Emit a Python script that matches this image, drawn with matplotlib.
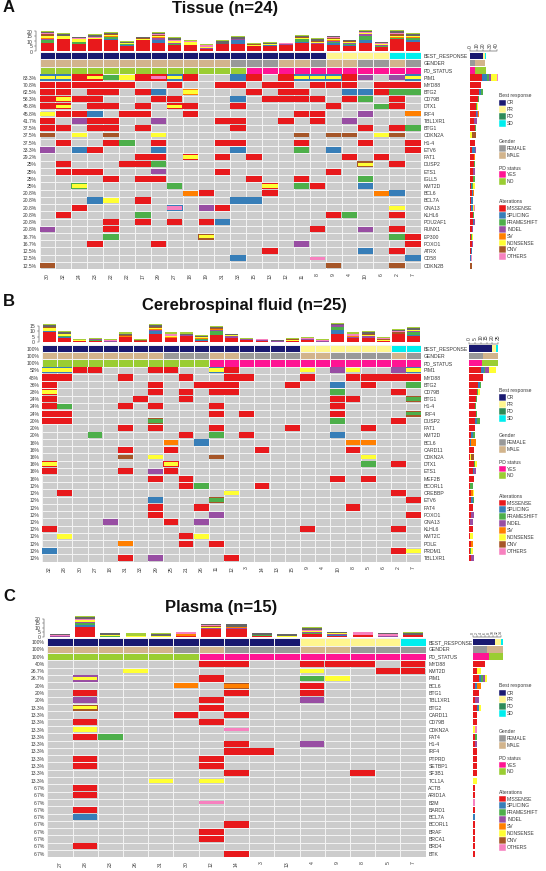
import matplotlib
matplotlib.use('Agg')
import matplotlib.pyplot as plt
import numpy as np
from matplotlib.colors import ListedColormap
from matplotlib.patches import Rectangle

plt.rcParams['font.family'] = ['Liberation Sans', 'DejaVu Sans']

W, H = 546, 871
TXT = '#3a3a3a'

alt_names = ['MISSENSE', 'SPLICING', 'FRAMESHIFT', 'INDEL', 'SV', 'NONSENSE', 'CNV', 'OTHERS']
alt_keys = 'MSFIVNCO'
alt_colors = ['#E8191C', '#377EB8', '#4DAF4A', '#984EA3', '#FF7F00', '#FFFF33', '#A65628', '#F781BF']
alt_heights = [0.84, 0.84, 0.8, 0.8, 0.68, 0.58, 0.58, 0.5]
extra_colors = ['#666666', '#A6CE39']

best_names = ['CR', 'PR', 'PD', 'SD']
best_colors = ['#191970', '#FFF68F', '#2E8B57', '#00EEEE']
gender_names = ['FEMALE', 'MALE']
gender_colors = ['#999999', '#D2B48C']
pd_names = ['YES', 'NO']
pd_colors = ['#FF1493', '#9ACD32']

# ---- Tissue
tissue_samples = [30, 32, 24, 23, 22, 22, 17, 29, 27, 18, 19, 31, 33, 15, 13, 12, 11, 8, 9, 4, 10, 6, 2, 7]
tissue_genes = ['PIM1', 'MYD88', 'BTG2', 'CD79B', 'DTX1', 'IRF4', 'TBL1XR1', 'BTG1', 'CDKN2A', 'H1-4', 'ETV6',
                'FAT1', 'DUSP2', 'ETS1', 'IGLL5', 'KMT2D', 'BCL6', 'BCL7A', 'GNA13', 'KLHL6', 'POU2AF1', 'RUNX1',
                'EP300', 'FOXO1', 'ATRX', 'CD58', 'CDKN2B']
tissue_pct = ['83.3%', '70.8%', '62.5%', '58.3%', '45.8%', '45.8%', '41.7%', '37.5%', '37.5%', '37.5%', '33.3%',
              '29.2%', '25%', '25%', '25%', '25%', '20.8%', '20.8%', '20.8%', '20.8%', '20.8%', '20.8%',
              '16.7%', '16.7%', '12.5%', '12.5%', '12.5%']
tissue_best = 'C' * 18 + 'P' * 4 + 'S' * 2
tissue_gender = 'MMMMMMMMMMMMFFFMMFMMFFMF'
tissue_status = 'N' * 13 + 'Y' * 11
tissue_hits = [
    '0N 1N 2M 3N 4F 5N 6M 7O 8N 9M 12S 13M 15M 16N 17N 18N 19M 20I 22I 23N',
    '0M 1M 2M 3M 4M 5M 8M 11M 12M 14M 15M 17M 18M 19M 21M 22M 23M',
    '0M 1M 3M 4M 6M 7S 9N 13M 15M 16M 19S 20S 21M 22F 23F',
    '0M 1N 2M 3M 7M 8M 12S 14M 15M 16M 17M 19M 20F 22M',
    '0M 1N 3M 4M 6M 8N 9M 12M 18M 21F 22M',
    '0N 1M 2M 3S 5M 6M 9M 16M 17M 20I 23V',
    '0M 2I 3M 4M 7I 11M 12M 15M 17M 19I',
    '0M 1M 3M 4M 6M 12M 20M 22M 23F',
    '0C 2N 4C 7N 16C 18C 19C 21N 22C',
    '1M 4M 5F 7M 11M 12M 16M 20M 23M',
    '0I 2S 3M 7S 12S 16F 18S 23M',
    '6M 7M 9N 11M 13M 19M 21M',
    '1M 5M 6M 7F 20N 22M',
    '1M 2M 3M 7I 11M 18M',
    '4M 6M 7M 13M 16M 20F',
    '2N 8F 14N 16F 17M 20S',
    '9V 10M 14M 21V 22S',
    '3S 4N 6M 12S 13S',
    '2M 8O 10I 11M 22N',
    '1M 6F 18M 19F 22M',
    '4M 6M 8M 10M 11S',
    '0I 4M 17M 20I 22M',
    '4F 10N 22F 23M',
    '3M 7M 16I 23M',
    '14M 20S 22M',
    '12S 17O 23S',
    '0C 18C 22C',
]
tissue_edges = {'PIM1': '0S 1S 3M 7M 8S 16S 17S 18S 23S', 'BTG2': '9V', 'CD79B': '1M', 'DTX1': '1M 8M',
                'FAT1': '9M', 'DUSP2': '20C', 'KMT2D': '2F 14M', 'GNA13': '8S', 'EP300': '10C'}
tissue_side = [[18, 8, 3, 3, 0, 9, 0, 1], [17, 0, 0, 0, 0, 0, 0, 0], [13, 4, 2, 0, 0, 0, 0, 0], [12, 0, 1, 0, 0, 1, 0, 0],
               [9, 0, 1, 0, 0, 2, 0, 0], [9, 2, 0, 1, 1, 1, 0, 0], [6, 0, 0, 4, 0, 0, 0, 0], [8, 0, 1, 0, 0, 0, 0, 0],
               [0, 0, 0, 0, 0, 3, 6, 0], [7, 0, 1, 0, 0, 0, 0, 0], [3, 4, 1, 1, 0, 0, 0, 0], [6, 0, 0, 0, 1, 0, 0, 0],
               [6, 0, 1, 0, 0, 1, 0, 0], [5, 0, 0, 2, 0, 0, 0, 0], [5, 0, 2, 0, 0, 0, 0, 0], [2, 1, 2, 0, 0, 2, 0, 0],
               [3, 1, 0, 0, 2, 0, 0, 0], [2, 3, 0, 0, 0, 0, 0, 0], [2, 2, 0, 1, 0, 1, 0, 1], [4, 0, 2, 0, 0, 0, 0, 0],
               [5, 1, 0, 1, 0, 0, 0, 0], [3, 0, 0, 2, 0, 0, 0, 0], [1, 0, 2, 0, 0, 1, 0, 0], [3, 0, 0, 1, 0, 0, 0, 0],
               [2, 1, 0, 0, 0, 0, 0, 0], [0, 2, 0, 0, 0, 0, 0, 1], [0, 0, 0, 0, 0, 0, 3, 0]]
tissue_side_best = [19, 3, 0, 2]
tissue_side_gender = [7, 16]
tissue_side_status = [8, 16]
tissue_stack = [
    [8, 12, 7, 12, 11, 5, 11, 8, 6, 6, 2, 7, 7, 5, 5, 6, 8, 7, 6, 5, 8, 4, 12, 9],
    [0, 0, 0, 0, 1, 1, 0, 3, 0, 0, 0, 0, 4, 0, 1, 0, 1, 0, 2, 1, 3, 0, 0, 2],
    [3, 0, 2, 0, 2, 1, 0, 0, 1, 0, 0, 0, 0, 0, 0, 0, 3, 0, 1, 1, 4, 1, 1, 2],
    [1, 0, 0, 0, 0, 0, 0, 2, 1, 0, 1, 0, 1, 0, 0, 1, 0, 1, 1, 1, 2, 1, 0, 0],
    [1, 0, 0, 0, 1, 0, 0, 1, 0, 0, 0, 0, 0, 0, 0, 0, 0, 0, 1, 0, 0, 0, 1, 1],
    [2, 3, 3, 1, 1, 1, 1, 1, 2, 3, 1, 0, 0, 1, 1, 0, 1, 1, 1, 1, 1, 1, 1, 1],
    [2, 0, 0, 0, 1, 0, 1, 1, 0, 0, 0, 0, 0, 1, 0, 0, 1, 1, 1, 1, 0, 0, 2, 0],
    [1, 0, 1, 1, 0, 0, 0, 1, 1, 1, 2, 0, 0, 0, 0, 1, 0, 0, 1, 0, 1, 1, 1, 0],
    [1, 2, 1, 2, 1, 1, 1, 1, 2, 0, 0, 3, 2, 0, 1, 0, 1, 2, 1, 1, 1, 1, 2, 2],
    [1, 1, 0, 1, 1, 1, 0, 1, 1, 1, 1, 1, 1, 1, 1, 0, 1, 1, 0, 0, 1, 0, 1, 1],
]

# ---- Cerebrospinal fluid
csf_samples = [32, 28, 30, 27, 18, 31, 33, 29, 25, 21, 26, 11, 12, 3, 14, 13, 15, 9, 4, 10, 8, 5, 6, 2, 7]
csf_genes = ['PIM1', 'MYD88', 'BTG2', 'CD79B', 'BTG1', 'H1-4', 'IRF4', 'DUSP2', 'FAT1', 'KMT2D', 'BCL6', 'CARD11',
             'CDKN2A', 'DTX1', 'ETS1', 'MEF2B', 'BCORL1', 'CREBBP', 'ETV6', 'FAT4', 'FOXO1', 'GNA13', 'KLHL6',
             'KMT2C', 'POLE', 'PRDM1', 'TBL1XR1']
csf_pct = ['52%', '48%', '36%', '28%', '24%', '24%', '24%', '20%', '20%', '20%', '16%', '16%', '16%', '16%', '16%',
           '16%', '12%', '12%', '12%', '12%', '12%', '12%', '12%', '12%', '12%', '12%', '12%']
csf_best = 'C' * 17 + 'P' * 6 + 'S' * 2
csf_gender = 'MMMMMMMMFFFMMFFFFMMFFFFMF'
csf_status = 'N' * 11 + 'Y' * 14
csf_hits = [
    '0N 1N 2M 3M 7M 8M 11N 12M 17N 19I 20N 23I 24N',
    '0M 1M 5M 9M 12M 13M 17M 20M 21M 22M 23M 24M',
    '0M 7M 10M 11M 12M 16M 19S 21M 24F',
    '0N 7M 9M 11M 12M 19F 23M',
    '0M 6M 9M 19M 20M 24F',
    '0M 1F 5M 7M 11M 19M',
    '0M 1M 11M 13M 19M 24F',
    '0M 1M 7F 19F 23M',
    '5M 7M 11M 16M 21M',
    '3F 9M 11F 13M 19S',
    '8V 10S 20V 21V',
    '5M 8M 14M 20M',
    '5C 7N 11C 21N',
    '0N 8N 21F 23M',
    '0M 5M 7I 8M',
    '7M 9M 19M 21M',
    '9M 10F 14M',
    '1M 12N 23M',
    '7S 11F 24M',
    '7M 10M 20M',
    '7M 11I 24M',
    '4I 8M 10I',
    '0M 17M 23M',
    '1N 9M 10N',
    '5V 9M 11M',
    '0S 23M 24N',
    '5M 7I 12M',
]
csf_edges = {'PIM1': '0S 1S 11S 24S', 'CD79B': '0M', 'BTG1': '24C', 'IRF4': '24C', 'DUSP2': '7C', 'DTX1': '0M 8M',
             'ETV6': '11C'}
csf_side = [[10, 3, 1, 3, 0, 6, 0, 0], [12, 0, 0, 0, 0, 0, 0, 0], [8, 1, 1, 0, 0, 0, 0, 0], [7, 0, 1, 0, 0, 1, 0, 0],
            [6, 0, 1, 0, 0, 0, 0, 0], [5, 0, 1, 0, 0, 0, 0, 0], [6, 0, 1, 0, 0, 0, 0, 0], [5, 2, 2, 0, 0, 0, 0, 0],
            [5, 0, 0, 0, 0, 0, 0, 0], [2, 1, 2, 0, 0, 0, 0, 0], [1, 1, 0, 0, 4, 0, 0, 0], [4, 0, 0, 0, 0, 0, 0, 0],
            [1, 0, 0, 0, 0, 1, 2, 0], [4, 0, 1, 0, 0, 2, 0, 0], [3, 1, 0, 2, 0, 0, 0, 0], [4, 0, 0, 0, 0, 0, 0, 0],
            [1, 0, 2, 0, 0, 0, 0, 0], [2, 0, 0, 0, 1, 1, 0, 0], [2, 1, 1, 0, 0, 0, 0, 0], [3, 0, 0, 0, 0, 0, 0, 0],
            [2, 0, 0, 2, 0, 0, 0, 0], [1, 0, 0, 2, 0, 0, 0, 0], [3, 0, 0, 0, 0, 0, 0, 0], [1, 0, 0, 0, 0, 2, 0, 0],
            [2, 0, 0, 0, 1, 0, 0, 0], [1, 0, 1, 0, 0, 1, 0, 0], [2, 0, 0, 2, 0, 0, 0, 0]]
csf_side_best = [20, 3, 0, 2]
csf_side_gender = [12, 13]
csf_side_status = [11, 14]
csf_stack = [
    [9, 4, 1, 1, 0, 5, 1, 8, 4, 6, 1, 7, 4, 2, 1, 0, 1, 2, 0, 8, 4, 4, 1, 8, 6],
    [1, 1, 0, 0, 0, 0, 0, 2, 0, 0, 1, 0, 0, 0, 0, 0, 0, 0, 0, 3, 0, 0, 0, 0, 1],
    [0, 1, 0, 1, 0, 0, 0, 0, 0, 0, 1, 3, 0, 0, 0, 0, 0, 0, 0, 3, 0, 0, 0, 0, 2],
    [0, 0, 0, 1, 1, 0, 0, 1, 0, 1, 0, 1, 2, 1, 1, 1, 0, 1, 1, 2, 1, 2, 0, 0, 1],
    [0, 0, 0, 0, 0, 1, 0, 1, 1, 0, 1, 1, 0, 0, 0, 0, 0, 0, 0, 0, 1, 0, 0, 0, 0],
    [3, 2, 1, 0, 0, 0, 0, 1, 1, 0, 1, 0, 1, 0, 0, 0, 1, 0, 0, 0, 0, 1, 1, 0, 1],
    [1, 0, 0, 0, 0, 1, 1, 1, 0, 0, 0, 1, 0, 0, 0, 0, 1, 0, 0, 0, 0, 1, 1, 1, 0],
    [0, 0, 0, 0, 1, 0, 0, 0, 2, 0, 0, 0, 0, 0, 1, 0, 0, 1, 1, 0, 2, 0, 1, 1, 0],
    [2, 1, 0, 0, 0, 1, 0, 2, 0, 1, 1, 1, 1, 0, 0, 1, 0, 0, 0, 1, 0, 1, 0, 1, 2],
    [1, 1, 1, 1, 1, 1, 1, 1, 1, 1, 1, 1, 0, 1, 0, 0, 1, 1, 1, 1, 1, 1, 1, 1, 1],
]

# ---- Plasma
plasma_samples = [27, 28, 23, 26, 31, 30, 12, 14, 3, 13, 4, 9, 8, 5, 7]
plasma_genes = ['MYD88', 'KMT2D', 'PIM1', 'BCL6', 'BTG1', 'TBL1XR1', 'BTG2', 'CARD11', 'CD79B', 'CDKN2A', 'FAT4',
                'H1-4', 'IRF4', 'PTPRD', 'SETBP1', 'SF3B1', 'TCL1A', 'ACTB', 'ARID1A', 'B2M', 'BARD1', 'BCL7A',
                'BCORL1', 'BRAF', 'BRCA1', 'BRD4', 'BTK']
plasma_pct = ['40%', '26.7%', '26.7%', '20%', '20%', '20%'] + ['13.3%'] * 11 + ['6.7%'] * 10
plasma_best = 'C' * 10 + 'P' * 4 + 'S'
plasma_gender = 'MMMMMFMFFFMMFFF'
plasma_status = 'N' * 6 + 'Y' * 9
plasma_hits = [
    '6M 7M 10M 11M 12M 14M',
    '3N 10N 13M 14M',
    '1N 6M 10F 11N',
    '5V 7V 10M',
    '1M 7M 10M',
    '1I 6M 10I',
    '1N 6M',
    '5M 7M',
    '1M 6M',
    '1N 7O',
    '1M 2F',
    '7M 10I',
    '7M 8M',
    '1M 6M',
    '1M 6M',
    '7M 12M',
    '4N 6N',
    '1M',
    '1M',
    '6O',
    '1M',
    '1S',
    '7M',
    '6M',
    '6M',
    '1M',
    '7M',
]
plasma_edges = {'PIM1': '1I', 'BCL6': '7C', 'BTG2': '1C'}
plasma_side = [[6, 0, 0, 0, 0, 0, 0, 0], [2, 0, 0, 0, 0, 2, 0, 0], [3, 1, 1, 1, 0, 1, 0, 0], [1, 1, 0, 0, 2, 0, 0, 0],
               [3, 0, 0, 0, 0, 0, 0, 0], [1, 0, 0, 2, 0, 0, 0, 0], [2, 1, 0, 0, 0, 1, 0, 0], [2, 0, 0, 0, 0, 0, 0, 0],
               [2, 0, 0, 0, 0, 0, 0, 0], [0, 0, 0, 0, 0, 1, 0, 1], [1, 0, 1, 0, 0, 0, 0, 0], [1, 0, 0, 1, 0, 0, 0, 0],
               [2, 0, 0, 0, 0, 0, 0, 0], [2, 0, 0, 0, 0, 0, 0, 0], [2, 0, 0, 0, 0, 0, 0, 0], [2, 0, 0, 0, 0, 0, 0, 0],
               [0, 0, 0, 0, 0, 2, 0, 0], [1, 0, 0, 0, 0, 0, 0, 0], [1, 0, 0, 0, 0, 0, 0, 0], [0, 0, 0, 0, 0, 0, 0, 1],
               [1, 0, 0, 0, 0, 0, 0, 0], [0, 1, 0, 0, 0, 0, 0, 0], [1, 0, 0, 0, 0, 0, 0, 0], [1, 0, 0, 0, 0, 0, 0, 0],
               [1, 0, 0, 0, 0, 0, 0, 0], [1, 0, 0, 0, 0, 0, 0, 0], [1, 0, 0, 0, 0, 0, 0, 0]]
plasma_side_best = [11, 3, 0, 1]
plasma_side_gender = [7, 8]
plasma_side_status = [8, 7]
plasma_stack = [
    [0, 11, 0, 0, 0, 1, 9, 9, 1, 0, 3, 1, 2, 0, 2],
    [0, 2, 0, 0, 0, 0, 0, 0, 0, 0, 0, 1, 0, 0, 0],
    [0, 2, 1, 0, 0, 0, 0, 0, 1, 0, 1, 0, 0, 0, 0],
    [1, 1, 0, 0, 0, 0, 1, 1, 0, 0, 1, 1, 0, 1, 0],
    [0, 0, 0, 0, 0, 2, 0, 1, 0, 0, 0, 0, 0, 0, 0],
    [0, 3, 1, 1, 1, 0, 1, 0, 0, 1, 1, 1, 0, 0, 0],
    [0, 0, 0, 0, 0, 0, 1, 0, 0, 0, 1, 0, 0, 0, 0],
    [1, 1, 0, 0, 0, 2, 1, 0, 0, 0, 1, 0, 3, 2, 0],
    [1, 2, 2, 0, 2, 0, 1, 3, 2, 2, 2, 1, 0, 1, 2],
    [0, 1, 0, 3, 1, 0, 0, 0, 0, 0, 1, 0, 0, 0, 1],
]


def rect(x0, y0, x1, y1):
    return [x0 / W, 1 - y1 / H, (x1 - x0) / W, (y1 - y0) / H]


def parse(row):
    return [(int(tok[:-1]), tok[-1]) for tok in row.split()]


def draw_panel(fig, samples, genes, pct, best, gender, status, hits, edges, side, side_best, side_gender,
               side_status, stack, box, top, side_box, top_ticks, side_ticks, grid_lw=0.6, bar_w=0.85, side_fs=3.6):
    n = len(samples)
    rows = ['BEST_RESPONSE', 'GENDER', 'PD_STATUS'] + genes
    x0, y0, x1, y1 = box

    # grid: 0 is the empty cell colour, the rest the annotation colours
    palette = ['#CCCCCC'] + best_colors + gender_colors + pd_colors
    code = np.zeros((len(rows), n), dtype=int)
    code[0] = [1 + 'CPDS'.index(c) for c in best]
    code[1] = [5 + 'FM'.index(c) for c in gender]
    code[2] = [7 + 'YN'.index(c) for c in status]
    ax = fig.add_axes(rect(x0, y0, x1, y1))
    ax.pcolormesh(np.arange(n + 1), np.arange(len(rows) + 1), code, cmap=ListedColormap(palette),
                  vmin=0, vmax=len(palette) - 1, edgecolors='#F2F2F2', linewidth=grid_lw)
    ax.set_xlim(0, n)
    ax.set_ylim(len(rows), 0)
    for r, (gene, row) in enumerate(zip(genes, hits)):
        under = dict(parse(edges.get(gene, '')))
        for c, key in parse(row):
            k = alt_keys.index(key)
            if c in under:
                ax.barh(r + 3.5, 1, left=c, height=0.84, color=alt_colors[alt_keys.index(under[c])], linewidth=0)
            ax.barh(r + 3.5, 0.97, left=c + 0.015, height=min(alt_heights[k], 0.5 if c in under else 1),
                    color=alt_colors[k], linewidth=0)
    for s in ax.spines.values():
        s.set_visible(False)
    pct_labels = ['100%' if len(samples) != 24 else ''] * 3 + pct
    ax.set_yticks(np.arange(len(rows)) + 0.5, pct_labels, fontsize=3.6, color=TXT)
    ax.set_xticks(np.arange(n) + 0.5, samples, fontsize=3.7, rotation=90, color=TXT)
    ax.tick_params(length=0, pad=2)
    ax.tick_params(axis='x', pad=3)
    right = ax.twinx()
    right.set_ylim(len(rows), 0)
    right.set_yticks(np.arange(len(rows)) + 0.5, rows, fontsize=3.7, color=TXT)
    right.tick_params(length=0, pad=2)
    for s in right.spines.values():
        s.set_visible(False)

    # stacked mutation counts per sample
    tx = fig.add_axes(rect(x0, top[0], x1, top[1]))
    for name in ['top', 'right', 'bottom']:
        tx.spines[name].set_visible(False)
    tx.spines['left'].set_position(('outward', 2.5))
    tx.spines['left'].set_linewidth(0.3)
    bottom = np.zeros(n)
    for values, color in zip(stack, alt_colors + extra_colors):
        tx.bar(np.arange(n) + 0.5, values, bottom=bottom, width=bar_w, color=color, linewidth=0)
        bottom += np.array(values)
    tx.set_xlim(0, n)
    tx.set_ylim(0, top[2])
    tx.set_xticks([])
    tx.set_yticks(top_ticks, top_ticks, fontsize=3.7, color=TXT)
    tx.tick_params(length=1.5, width=0.3, pad=1, color='#555555')
    tx.spines['left'].set_bounds(top_ticks[0], top_ticks[-1])
    tx.patch.set_alpha(0)

    # side bars per row
    sx = fig.add_axes(rect(side_box[0], y0, side_box[0] + side_box[1], y1))
    for name in ['left', 'right', 'bottom']:
        sx.spines[name].set_visible(False)
    sx.spines['top'].set_position(('outward', 1))
    sx.spines['top'].set_linewidth(0.3)
    for r, (vals, cols) in enumerate([(side_best, best_colors), (side_gender, gender_colors),
                                      (side_status, pd_colors)]):
        left = 0
        for v, c in zip(vals, cols):
            sx.barh(r + 0.5, v, left=left, height=0.9, color=c, linewidth=0)
            left += v
    for r, vals in enumerate(side):
        left = 0
        for v, c in zip(vals, alt_colors):
            sx.barh(r + 3.5, v, left=left, height=0.85, color=c, linewidth=0)
            left += v
    sx.set_xlim(0, side_box[1] / side_box[2])
    sx.set_ylim(len(rows), 0)
    sx.set_yticks([])
    sx.xaxis.tick_top()
    sx.set_xticks(side_ticks, side_ticks, fontsize=side_fs, rotation=90, color=TXT)
    sx.tick_params(length=1.5, width=0.3, pad=0.8, color='#555555')
    sx.spines['top'].set_bounds(side_ticks[0], side_ticks[-1])
    sx.patch.set_alpha(0)


def legend_block(page, x, title, y_title, y_first, names, colors, pitch=6.9):
    page.text(x, y_title, title, fontsize=3.6, va='center', ha='left', color=TXT)
    for i, (name, color) in enumerate(zip(names, colors)):
        y = y_first + i * pitch
        page.add_patch(Rectangle((x, y - pitch / 2), 6.8, pitch, facecolor=color, edgecolor='white', linewidth=0.3))
        page.text(x + 8, y, name, fontsize=3.6, va='center', ha='left', color=TXT)


def legends(page, x, ys):
    legend_block(page, x, 'Best response', ys[0], ys[1], best_names, best_colors)
    legend_block(page, x, 'Gender', ys[2], ys[3], gender_names, gender_colors)
    legend_block(page, x, 'PD status', ys[4], ys[5], pd_names, pd_colors)
    legend_block(page, x, 'Alterations', ys[6], ys[7], alt_names, alt_colors)


fig = plt.figure(figsize=(W / 100, H / 100), dpi=100)

draw_panel(fig, tissue_samples, tissue_genes, tissue_pct, tissue_best, tissue_gender, tissue_status, tissue_hits,
           tissue_edges, tissue_side, tissue_side_best, tissue_side_gender, tissue_side_status, tissue_stack,
           (39.5, 52.2, 421, 269.2), (28.5, 51.5, 23), (470, 72, 0.667), [0, 5, 10, 15, 20], [0, 10, 20, 30, 40])
draw_panel(fig, csf_samples, csf_genes, csf_pct, csf_best, csf_gender, csf_status, csf_hits,
           csf_edges, csf_side, csf_side_best, csf_side_gender, csf_side_status, csf_stack,
           (42, 345, 421.3, 561.7), (320, 342.3, 20.3), (469, 72, 1.17), [0, 5, 10, 15], [0, 5, 10, 15, 20, 25])
draw_panel(fig, plasma_samples, plasma_genes, plasma_pct, plasma_best, plasma_gender, plasma_status, plasma_hits,
           plasma_edges, plasma_side, plasma_side_best, plasma_side_gender, plasma_side_status, plasma_stack,
           (47.3, 638.3, 425.7, 857.3), (614, 637, 25), (473.3, 72, 1.97), [0, 5, 10, 15, 20],
           [0, 2, 4, 6, 8, 10, 12, 14], bar_w=0.8, grid_lw=0.45, side_fs=2.4)

page = fig.add_axes([0, 0, 1, 1])
page.set_xlim(0, W)
page.set_ylim(H, 0)
page.axis('off')
page.patch.set_alpha(0)

for letter, y in zip('ABC', [7, 301, 596]):
    page.text(3, y, letter, fontsize=12, fontweight='bold', va='center', ha='left', color='#111111')
for title, x, y in [('Tissue (n=24)', 225, 9), ('Cerebrospinal fluid (n=25)', 244, 305), ('Plasma (n=15)', 221, 607)]:
    page.text(x, y, title, fontsize=12, fontweight='bold', va='center', ha='center', color='#111111')

legends(page, 499, [96, 103, 141.3, 148.2, 168, 174.5, 201.7, 208.5])
legends(page, 498.8, [390, 397.7, 435.7, 442.3, 462.3, 469, 496, 503])
legends(page, 499, [685.3, 693, 731, 738.3, 758.3, 765, 792, 799])

fig.savefig('out.png', dpi=100)
plt.close(fig)
